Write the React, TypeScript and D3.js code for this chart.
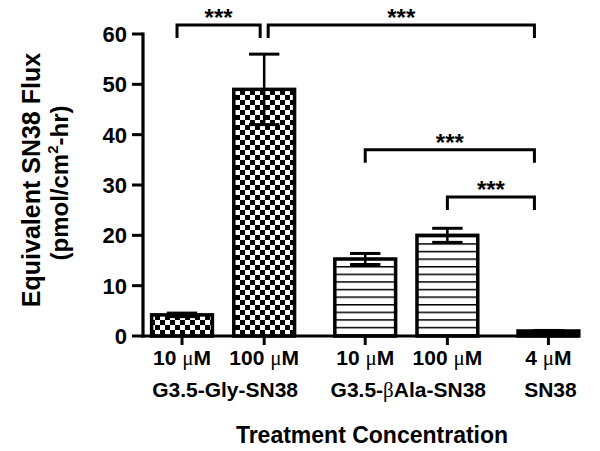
import React from "react";
import * as d3 from "d3";

const concLabels = ["10 ", "100 ", "10 ", "100 ", "4 "];
const groupIndex = [0, 0, 1, 1, 2];
const groupNames = [["G3.5-Gly-SN38"], ["G3.5-", "β", "Ala-SN38"], ["SN38"]];
const meanValues = [4.2, 49, 15.3, 20, 1.0];
const errValues = [0.35, 7.0, 1.1, 1.4, 0.1];
const patterns = ["checker", "checker", "hlines", "hlines", "solid"];
const yTicks = [0, 10, 20, 30, 40, 50, 60];
const brackets = [
  { from: 0, to: 1, level: 61.8 },
  { from: 1, to: 4, level: 61.8 },
  { from: 2, to: 4, level: 37.0 },
  { from: 3, to: 4, level: 27.6 },
];
const sigLabel = "***";

const W = 600;
const H = 451;
const FONT = "'Liberation Sans', Arial, Helvetica, sans-serif";
const SERIF = "'Liberation Serif', 'DejaVu Serif', serif";

export default function App() {
  const slots = meanValues.map((_, i) => i + groupIndex[i] * 0.23);
  const x = d3.scaleLinear().domain([-0.475, 4.82]).range([143, 578]);
  const y = d3.scaleLinear().domain([0, 60]).range([336, 34]);
  const halfBar = 0.37;
  const bw = x(halfBar) - x(0);
  const cx = (i: number) => x(slots[i]);
  const y0 = y(0);
  const drop = 13;

  const groupCenters = [0, 1, 2].map((g) => {
    const idx = slots.map((s, i) => ({ s, i })).filter((d) => groupIndex[d.i] === g);
    return x(d3.mean(idx, (d) => d.s) as number);
  });

  return (
    <svg
      width={W}
      height={H}
      style={{ position: "absolute", left: 0, top: 0, background: "#fff" }}
      fontFamily={FONT}
    >
      <defs>
        <pattern id="checker" width={10} height={10} patternUnits="userSpaceOnUse">
          <rect width={10} height={10} fill="#fff" />
          <rect x={0} y={0} width={5} height={5} fill="#000" />
          <rect x={5} y={5} width={5} height={5} fill="#000" />
        </pattern>
        <pattern id="hlines" width={8} height={7.6} patternUnits="userSpaceOnUse">
          <rect width={8} height={7.6} fill="#fff" />
          <rect x={0} y={0} width={8} height={1.5} fill="#000" />
        </pattern>
      </defs>

      {/* bars */}
      {meanValues.map((v, i) => (
        <rect
          key={"bar" + i}
          x={cx(i) - bw}
          y={y(v)}
          width={bw * 2}
          height={y0 - y(v)}
          fill={patterns[i] === "solid" ? "#000" : `url(#${patterns[i]})`}
          stroke="#000"
          strokeWidth={3.5}
        />
      ))}

      {/* error bars */}
      {meanValues.map((v, i) => {
        const e = errValues[i];
        const c = cx(i);
        const capW = bw / 2;
        return (
          <g key={"err" + i} stroke="#000">
            <line x1={c} x2={c} y1={y(v - e)} y2={y(v + e)} strokeWidth={2.5} />
            <line x1={c - capW} x2={c + capW} y1={y(v + e)} y2={y(v + e)} strokeWidth={3} />
            <line x1={c - capW} x2={c + capW} y1={y(v - e)} y2={y(v - e)} strokeWidth={3} />
          </g>
        );
      })}

      {/* y axis */}
      <line x1={143} x2={143} y1={y(60) - 1.5} y2={y0 + 1.5} stroke="#000" strokeWidth={3.2} />
      {yTicks.map((t) => (
        <g key={"yt" + t}>
          <line x1={132} x2={143} y1={y(t)} y2={y(t)} stroke="#000" strokeWidth={3} />
          <text
            x={127}
            y={y(t)}
            dy="0.36em"
            textAnchor="end"
            fontSize={22}
            fontWeight="bold"
          >
            {t}
          </text>
        </g>
      ))}

      {/* x axis */}
      <line x1={141.5} x2={x(4.82)} y1={y0} y2={y0} stroke="#000" strokeWidth={3.2} />
      {meanValues.map((_, i) => (
        <line key={"xt" + i} x1={cx(i)} x2={cx(i)} y1={y0} y2={y0 + 9} stroke="#000" strokeWidth={3} />
      ))}
      {concLabels.map((l, i) => (
        <text key={"cl" + i} x={cx(i)} y={365} textAnchor="middle" fontSize={21} fontWeight="bold">
          {l}
          <tspan fontFamily={SERIF} fontWeight="normal">μ</tspan>
          M
        </text>
      ))}
      {groupNames.map((parts, g) => (
        <text key={"gn" + g} x={groupCenters[g] + 2} y={397} textAnchor="middle" fontSize={21} fontWeight="bold">
          {parts.length === 1
            ? parts[0]
            : parts.map((p, k) =>
                k === 1 ? (
                  <tspan key={k} fontFamily={SERIF} fontWeight="normal">{p}</tspan>
                ) : (
                  <tspan key={k}>{p}</tspan>
                )
              )}
        </text>
      ))}
      <text x={372} y={443} textAnchor="middle" fontSize={23} fontWeight="bold">
        Treatment Concentration
      </text>

      {/* y title */}
      <g transform={`translate(0,180) rotate(-90)`}>
        <text x={0} y={40} textAnchor="middle" fontSize={25} fontWeight="bold">
          Equivalent SN38 Flux
        </text>
        <text x={-3} y={68} textAnchor="middle" fontSize={24} fontWeight="bold">
          (pmol/cm
          <tspan fontSize={15} dy={-10}>2</tspan>
          <tspan dy={10}>-hr)</tspan>
        </text>
      </g>

      {/* significance brackets */}
      {brackets.map((b, k) => {
        const xl = cx(b.from) + (b.from === 1 ? 4 : b.from === 0 ? -5 : 0);
        const xr = cx(b.to) + (b.to === 4 ? -14 : -4);
        const yy = y(b.level);
        return (
          <g key={"br" + k}>
            <path
              d={`M${xl},${yy + drop}V${yy}H${xr}V${yy + drop}`}
              fill="none"
              stroke="#000"
              strokeWidth={3}
            />
            <text x={(xl + xr) / 2} y={yy + 1} textAnchor="middle" fontSize={24} fontWeight="bold">
              {sigLabel}
            </text>
          </g>
        );
      })}
    </svg>
  );
}
